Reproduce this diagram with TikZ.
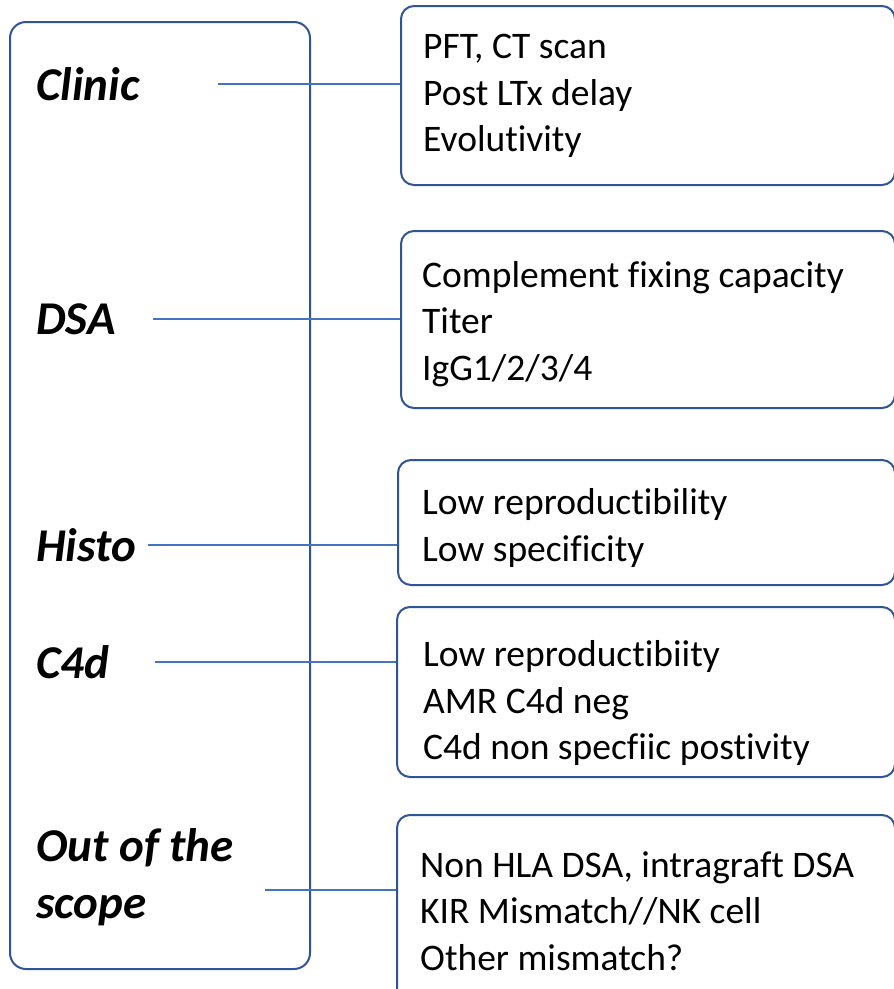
\documentclass[tikz,border=0pt]{standalone}
\usepackage{fontspec}
\setmainfont{Carlito}[Ligatures=NoCommon]
\usepackage{tikz}

\definecolor{boxblue}{HTML}{2F5597}
\definecolor{linkblue}{HTML}{4472C4}

\tikzset{
  frame/.style={draw=boxblue, line width=2pt, rounded corners=13pt, anchor=north west, inner sep=0pt},
  topic/.style={anchor=west, inner sep=0pt, align=left, font=\fontsize{47}{57}\selectfont\bfseries\itshape},
  note/.style={anchor=west, inner sep=0pt, align=left, font=\fontsize{37.5}{46.5}\selectfont},
  link/.style={draw=linkblue, line width=1.3pt},
}

\begin{document}
\begin{tikzpicture}[x=1pt, y=-1pt]
  \useasboundingbox (0,0) rectangle (894,989);
  \clip (0,0) rectangle (894,989);

  % left column
  \node[frame, rounded corners=16pt, minimum width=300pt, minimum height=947pt] (panel) at (9,21) {};
  \node[topic] (clinic) at (36,84) {Clinic};
  \node[topic] (dsa) at (36,319) {DSA};
  \node[topic] (histo) at (36,545) {Histo};
  \node[topic] (cfour) at (36,662) {C4d};
  \node[topic] (scope) at (36,877) {Out of the\\scope};

  % right boxes
  \node[frame, minimum width=494pt, minimum height=179pt] (bclinic) at (400,5) {};
  \node[frame, minimum width=494pt, minimum height=177pt] (bdsa) at (400,230) {};
  \node[frame, minimum width=497pt, minimum height=125pt] (bhisto) at (397,459) {};
  \node[frame, minimum width=498pt, minimum height=170pt] (bcfour) at (396,606) {};
  \node[frame, minimum width=498pt, minimum height=196pt] (bscope) at (396,814) {};

  \node[note] (tclinic) at (423,96) {PFT, CT scan\\Post LTx delay\\Evolutivity};
  \node[note] (tdsa) at (422,324) {Complement fixing capacity\\Titer\\IgG1/2/3/4};
  \node[note] (thisto) at (422,528) {Low reproductibility\\Low specificity};
  \node[note] (tcfour) at (423,703) {Low reproductibiity\\AMR C4d neg\\C4d non specfiic postivity};
  \node[note] (tscope) at (420,911) {Non HLA DSA, intragraft DSA\\KIR Mismatch//NK cell\\Other mismatch?};

  % connectors
  \coordinate (lclinic) at (218,84);
  \coordinate (ldsa) at (153,319);
  \coordinate (lhisto) at (148,545);
  \coordinate (lcfour) at (155,662);
  \coordinate (lscope) at (265,890);
  \draw[link] (lclinic) -- (lclinic -| bclinic.west);
  \draw[link] (ldsa) -- (ldsa -| bdsa.west);
  \draw[link] (lhisto) -- (lhisto -| bhisto.west);
  \draw[link] (lcfour) -- (lcfour -| bcfour.west);
  \draw[link] (lscope) -- (lscope -| bscope.west);
\end{tikzpicture}
\end{document}
